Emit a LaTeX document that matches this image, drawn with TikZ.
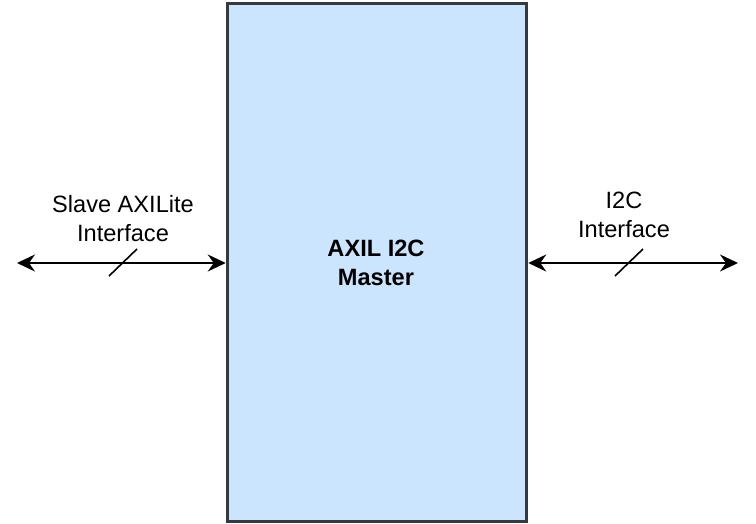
\documentclass[tikz,border=0pt]{standalone}
\usepackage{fontspec}
\setmainfont{Liberation Sans}
\usetikzlibrary{arrows.meta}
\definecolor{boxfill}{HTML}{CCE5FF}
\definecolor{boxline}{HTML}{36393D}
\begin{document}
\begin{tikzpicture}[x=1pt,y=-1pt,
  lbl/.style={font=\fontsize{23.6}{29}\selectfont, align=center, inner sep=0pt},
  conn/.style={line width=2pt, {Stealth[length=18pt,width=17pt,inset=6pt]}-{Stealth[length=18pt,width=17pt,inset=6pt]}},
  slash/.style={line width=1.6pt}]
\useasboundingbox (0,0) rectangle (756,524);
\node[draw=boxline, fill=boxfill, line width=3.5pt, minimum width=299pt, minimum height=518pt, inner sep=0pt] (m) at (377,262.5) {};
\node[lbl, font=\fontsize{23.6}{29}\selectfont\bfseries] (mt) at (376,262.5) {AXIL I2C\\Master};
\coordinate (l) at (17,263);
\coordinate (r) at (738,263);
\draw[conn] (l) -- (m.west |- l);
\draw[conn] (m.east |- r) -- (r);
\coordinate (s1a) at (109,276); \coordinate (s1b) at (137,249);
\coordinate (s2a) at (615,276); \coordinate (s2b) at (643,249);
\draw[slash] (s1a) -- (s1b);
\draw[slash] (s2a) -- (s2b);
\node[lbl] (lt) at (123,218.5) {Slave AXILite\\Interface};
\node[lbl] (rt) at (624,214.5) {I2C\\Interface};
\end{tikzpicture}
\end{document}
